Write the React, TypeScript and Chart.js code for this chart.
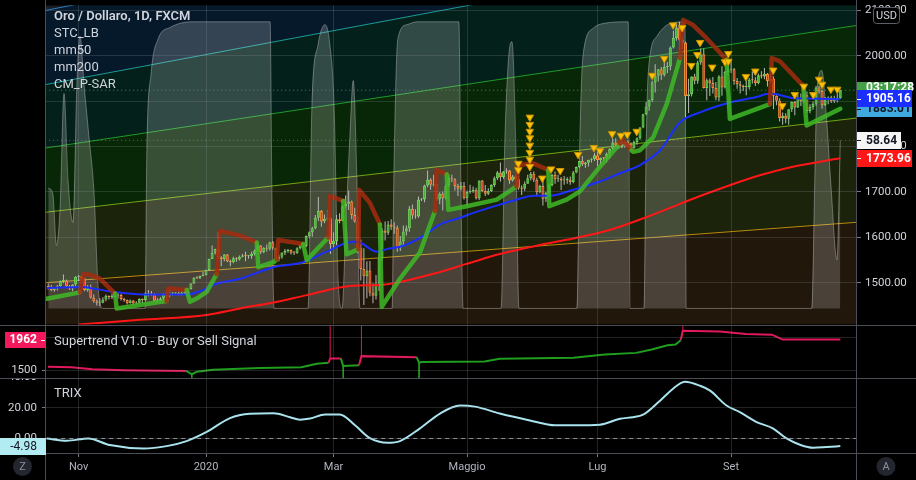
import React, { useEffect, useRef } from 'react';
import { Chart, registerables } from 'chart.js';

Chart.register(...registerables);

const FONT = "Roboto, 'Liberation Sans', Arial, sans-serif";

// ---------- DATA ----------
const firstBar = -10; // bar index of the first candle (Nov 1 2019 = 0)
// [open, high, low, close]
const candles: number[][] = [
  // Oct 2019
  [1493,1498,1485,1490],[1490,1495,1481,1484],[1484,1490,1480,1487],[1487,1495,1483,1492],[1492,1505,1489,1504],
  [1504,1518,1499,1505],[1505,1507,1488,1492],[1492,1495,1484,1487],[1487,1497,1482,1496],[1496,1514,1491,1513],
  // Nov
  [1513,1517,1504,1514],[1514,1516,1505,1509],[1509,1511,1481,1484],[1484,1495,1480,1490],[1490,1496,1465,1467],
  [1467,1474,1456,1459],[1459,1463,1450,1456],[1456,1466,1448,1456],[1456,1468,1455,1463],[1463,1474,1459,1471],
  [1471,1472,1463,1468],[1468,1476,1464,1472],[1472,1477,1467,1472],[1472,1479,1465,1473],[1473,1475,1461,1464],
  [1464,1467,1458,1462],[1462,1463,1452,1455],[1455,1463,1454,1461],[1461,1462,1451,1454],[1454,1459,1452,1456],
  [1456,1466,1454,1464],
  // Dec
  [1464,1465,1454,1462],[1462,1479,1459,1477],[1477,1484,1470,1474],[1474,1482,1471,1475],[1475,1477,1458,1460],
  [1460,1466,1458,1462],[1462,1468,1459,1465],[1465,1477,1461,1475],[1475,1480,1465,1471],[1471,1484,1468,1476],
  [1476,1479,1472,1476],[1476,1479,1473,1476],[1476,1480,1472,1475],[1475,1482,1472,1478],[1478,1481,1474,1478],
  [1478,1488,1476,1486],[1486,1499,1485,1498],[1498,1512,1497,1511],[1511,1514,1508,1510],[1510,1516,1508,1515],[1515,1524,1514,1517],
  // Jan 2020
  [1517,1529,1516,1528],[1528,1553,1526,1552],[1552,1582,1552,1566],[1566,1575,1562,1574],[1574,1611,1553,1556],
  [1556,1558,1536,1552],[1552,1563,1547,1562],[1562,1563,1545,1548],[1548,1551,1536,1545],[1545,1557,1543,1554],
  [1554,1556,1546,1551],[1551,1560,1549,1557],[1557,1563,1556,1560],[1560,1568,1547,1558],[1558,1561,1553,1558],
  [1558,1568,1553,1563],[1563,1573,1560,1571],[1571,1588,1569,1582],[1582,1583,1563,1567],[1567,1578,1565,1577],
  [1577,1584,1569,1575],[1575,1590,1571,1589],
  // Feb
  [1589,1592,1572,1577],[1577,1577,1548,1553],[1553,1562,1547,1557],[1557,1567,1553,1566],[1566,1574,1561,1570],
  [1570,1574,1566,1572],[1572,1573,1562,1566],[1566,1570,1561,1565],[1565,1578,1564,1576],[1576,1585,1573,1584],
  [1584,1586,1578,1581],[1581,1604,1578,1603],[1603,1613,1598,1611],[1611,1623,1601,1620],[1620,1649,1618,1643],
  [1643,1689,1636,1658],[1658,1660,1623,1635],[1635,1650,1631,1641],[1641,1660,1636,1642],[1642,1645,1563,1585],
  // Mar
  [1585,1611,1577,1592],[1592,1649,1583,1640],[1640,1653,1631,1636],[1636,1671,1636,1669],[1669,1692,1663,1674],
  [1674,1703,1660,1679],[1679,1681,1640,1649],[1649,1665,1632,1635],[1635,1646,1565,1576],[1576,1595,1505,1530],
  [1530,1576,1451,1514],[1514,1547,1466,1527],[1527,1548,1470,1478],[1478,1499,1455,1471],[1471,1517,1463,1498],
  [1498,1565,1482,1554],[1554,1620,1547,1615],[1615,1635,1593,1610],[1610,1636,1605,1628],[1628,1640,1616,1623],
  [1623,1633,1608,1621],[1621,1626,1568,1577],
  // Apr
  [1577,1603,1570,1591],[1591,1626,1580,1613],[1613,1626,1604,1620],[1620,1669,1612,1663],[1663,1672,1640,1648],
  [1648,1662,1641,1646],[1646,1690,1643,1683],[1683,1686,1680,1683],[1683,1716,1677,1714],[1714,1747,1710,1727],
  [1727,1730,1705,1716],[1716,1738,1712,1718],[1718,1718,1680,1683],[1683,1699,1673,1696],[1696,1701,1659,1686],
  [1686,1718,1683,1714],[1714,1739,1710,1730],[1730,1738,1721,1728],[1728,1730,1703,1713],[1713,1718,1691,1707],
  [1707,1722,1703,1713],[1713,1722,1683,1686],
  // May
  [1686,1703,1670,1700],[1700,1716,1696,1701],[1701,1712,1698,1705],[1705,1709,1683,1686],[1686,1725,1682,1725],
  [1725,1726,1699,1702],[1702,1715,1691,1696],[1696,1708,1693,1702],[1702,1717,1700,1715],[1715,1734,1711,1730],
  [1730,1746,1726,1743],[1743,1765,1723,1733],[1733,1746,1729,1745],[1745,1752,1740,1747],[1747,1748,1718,1725],
  [1725,1737,1723,1734],[1734,1736,1725,1728],[1728,1735,1705,1709],[1709,1714,1693,1707],[1707,1723,1702,1718],
  [1718,1738,1718,1730],
  // Jun
  [1730,1744,1725,1740],[1740,1745,1722,1727],[1727,1731,1692,1699],[1699,1716,1697,1713],[1713,1726,1670,1685],
  [1685,1700,1678,1698],[1698,1718,1694,1715],[1715,1740,1712,1737],[1737,1745,1718,1728],[1728,1738,1722,1729],
  [1729,1733,1704,1725],[1725,1735,1716,1726],[1726,1732,1718,1727],[1727,1734,1716,1722],[1722,1746,1719,1743],
  [1743,1756,1741,1755],[1755,1768,1752,1768],[1768,1779,1757,1761],[1761,1766,1753,1764],[1764,1771,1756,1771],
  [1771,1774,1765,1772],[1772,1786,1768,1781],
  // Jul
  [1781,1789,1757,1770],[1770,1776,1760,1775],[1775,1777,1768,1774],[1774,1787,1765,1784],[1784,1796,1773,1795],
  [1795,1818,1792,1809],[1809,1818,1797,1803],[1803,1808,1795,1798],[1798,1815,1796,1802],[1802,1811,1797,1810],
  [1810,1814,1802,1807],[1807,1809,1795,1796],[1796,1812,1795,1810],[1810,1820,1804,1818],[1818,1843,1815,1842],
  [1842,1872,1840,1871],[1871,1898,1869,1888],[1888,1903,1879,1902],[1902,1945,1898,1941],[1941,1981,1919,1956],
  [1956,1970,1943,1970],[1970,1975,1947,1958],[1958,1984,1954,1975],
  // Aug
  [1975,1986,1962,1976],[1976,2020,1968,2018],[2018,2055,2016,2039],[2039,2069,2033,2062],[2062,2075,2012,2035],
  [2035,2040,2015,2029],[2029,2031,1863,1911],[1911,1949,1874,1915],[1915,1954,1910,1954],[1954,1960,1937,1945],
  [1945,1989,1938,1985],[1985,2016,1980,2003],[2003,2016,1928,1929],[1929,1950,1902,1946],[1946,1950,1911,1940],
  [1940,1953,1917,1929],[1929,1942,1902,1908],[1908,1957,1900,1954],[1954,1977,1912,1930],[1930,1967,1928,1964],
  [1964,1977,1956,1968],
  // Sep
  [1968,1992,1962,1970],[1970,1973,1936,1944],[1944,1951,1927,1937],[1937,1944,1917,1934],[1934,1936,1922,1931],
  [1931,1944,1913,1931],[1931,1951,1926,1947],[1947,1966,1939,1946],[1946,1953,1933,1940],[1940,1961,1937,1957],
  [1957,1966,1950,1954],[1954,1973,1948,1960],[1960,1962,1932,1944],[1944,1961,1940,1950],[1950,1955,1882,1912],
  [1912,1913,1891,1901],[1901,1906,1855,1863],[1863,1875,1848,1868],[1868,1873,1851,1861],[1861,1882,1848,1882],
  [1882,1899,1876,1898],[1898,1900,1869,1886],
  // Oct
  [1886,1917,1885,1906],[1906,1917,1889,1900],[1900,1920,1895,1913],[1913,1921,1874,1878],[1878,1893,1873,1887],
  [1887,1899,1881,1894],[1894,1933,1890,1930],[1930,1933,1917,1922],[1922,1925,1883,1891],[1891,1909,1889,1902],
  [1902,1910,1893,1908],[1908,1912,1896,1900],[1900,1912,1896,1904],[1904,1916,1897,1907],[1907,1925,1905,1924],
];

const monthTicks: [number, string][] = [[0, 'Nov'], [42, '2020'], [84, 'Mar'], [128, 'Maggio'], [171, 'Lug'], [215, 'Set']];
const priceTicks = [1500, 1600, 1700, 1800, 1900, 2000, 2100];
const stTicks = [1500, 2000];
const trixTicks = [0, 20];
const trixTopTick = 40;

// mm50 / mm200 moving averages [bar, price]
const mm50Points = [
  [-10.5,1488.5],[1.55,1490.6],[3.76,1488.5],[11.4,1479.8],[21.3,1473.9],[35.6,1473.9],[40.0,1481.3],[45.5,1497.8],
  [53.2,1508.7],[64.2,1534.2],[74.0,1545.1],[81.7,1568.4],[90.5,1590.1],[92.7,1588.6],[98.2,1568.4],[101.5,1574.0],
  [107.0,1581.4],[113.6,1603.2],[119.1,1628.4],[125.7,1643.0],[130.1,1653.9],[138.8,1672.0],[144.3,1682.9],
  [149.8,1691.6],[155.3,1691.6],[163.0,1704.6],[171.8,1722.9],[178.4,1741.0],[185.0,1759.0],[191.6,1791.7],
  [198.2,1853.5],[204.8,1875.3],[214.6,1897.1],[223.4,1909.2],[227.8,1916.6],[230.0,1915.1],[235.5,1906.4],
  [239.9,1905.8],[249.8,1904.2],[251,1905.16],
];
const mm200Points = [
  [0,1408],[20.2,1418.2],[42.2,1429.0],[53.2,1443.4],[64.2,1456.5],[75.2,1472.6],[89.4,1492.8],[100.4,1495.6],
  [105.9,1501.5],[116.9,1519.6],[127.9,1541.4],[138.8,1563.1],[149.8,1579.9],[160.8,1594.5],[171.8,1610.4],
  [178.4,1623.4],[188.3,1647.4],[198.2,1673.5],[204.8,1690.9],[214.6,1714.8],[224.5,1736.6],[235.4,1755.6],[251,1773.96],
];
// CM_P-SAR [bar, price, trend(1 up / -1 down)]
const sarPoints = [
  [-10.5,1464.5,1],[0.46,1478.7,1],
  [1.55,1518.9,-1],[3.76,1517.4,-1],[7.05,1509.1,-1],[9.26,1494.3,-1],[12.0,1476.1,-1],
  [12.55,1443.4,1],[20.2,1450.8,1],[29.0,1459.5,1],
  [29.55,1487.4,-1],[35.6,1484.1,-1],
  [36.7,1458.0,1],[38.9,1465.2,1],[42.2,1479.8,1],[45.5,1518.9,1],
  [46.6,1614.1,-1],[53.2,1603.8,-1],[58.7,1588.6,-1],
  [59.2,1534.2,1],[64.2,1545.1,1],[65.3,1551.6,1],
  [65.8,1594.0,-1],[74.0,1585.3,-1],
  [75.2,1549.4,1],[78.5,1573.4,1],[82.3,1599.5,1],
  [82.8,1690.9,-1],[87.2,1680.0,-1],
  [88.3,1562.5,1],[92.2,1573.4,1],
  [92.4,1704.6,-1],[96.0,1675.7,-1],[99.3,1628.4,-1],
  [99.9,1447.1,1],[105.9,1508.7,1],[112.5,1566.8,1],[117.4,1657.6,1],
  [118.0,1748.2,-1],[121.3,1738.8,-1],
  [121.8,1660.4,1],[127.9,1668.5,1],[137.8,1682.9,1],[144.3,1712.0,1],
  [144.9,1759.0,-1],[149.8,1762.7,-1],[154.8,1748.2,-1],
  [155.1,1668.5,1],[160.8,1682.9,1],[165.2,1701.1,1],[171.8,1755.6,1],[178.4,1806.3,1],
  [178.9,1817.2,-1],[182.2,1791.7,-1],
  [182.8,1788.2,1],[185.0,1791.7,1],[189.4,1820.9,1],[193.8,1893.4,1],[198.2,1995.0,1],
  [199.2,2078.4,-1],[202.5,2067.5,-1],[206.9,2038.5,-1],[213.5,1991.3,-1],
  [214.6,1860.7,1],[227.8,1893.4,1],
  [228.4,1995.0,-1],[231.1,1987.6,-1],[238.8,1933.2,-1],
  [239.9,1846.1,1],[251,1883.01,1],
];
// yellow signal triangles [bar, price]
const signalMarks = [
  [144.9,1762.7],[144.9,1748.6],
  [148.7,1864.4],[148.7,1848.3],[148.7,1833.1],[148.7,1818.7],[148.7,1802.6],[148.7,1786.7],[148.7,1771.5],[148.7,1755.6],
  [152.8,1730.1],[155.7,1750.3],[158.7,1746.8],[164.6,1782.3],[169.8,1797.6],[171.8,1790.4],
  [175.8,1828.0],[178.7,1824.3],[180.8,1826.5],[183.9,1833.1],
  [189.0,1956.5],[193.0,1993.5],[195.9,2067.5],[198.9,2061.6],
  [201.9,1978.2],[203.9,2002.2],[204.8,2028.9],[208.8,1974.5],[213.0,1986.3],[214.1,2004.4],[214.1,1987.6],
  [219.9,1953.6],[223.0,1965.8],[228.9,1968.0],
  [231.9,1889.6],[236.0,1914.0],[239.0,1932.5],[242.1,1914.0],[244.0,1947.8],[245.0,1936.9],[247.9,1926.0],[250.0,1926.0],
];
// STC_LB oscillator (0..100) [bar, value]
const stcPoints = [
  [-10,42],[-8.5,40],[-7.3,22],[-6.1,35],[-4.8,75],[-3.5,45],[-1.85,30],[-0.5,80],[0.46,95],[1.8,78],[3.4,60],[5.1,40],[6.4,8],[8.0,0],
  [21.9,0],[22.5,55],[23.9,82],[26.2,94],[30.1,98],[37.7,100],[63.1,100],[63.7,40],[64.4,0],
  [75.6,0],[76.9,71],[78.9,92],[81.2,99],[82.8,92],[84.2,70],[85.5,10],[86.8,0],
  [88.1,30],[89.4,60],[90.5,79.5],[91.7,45],[92.7,0],
  [103.3,0],[103.9,47],[105.2,94],[108.2,99],[111.5,100],[125.3,100],[126,40],[126.7,0],
  [139.2,0],[140.5,60],[142.2,92],[142.8,93],[144.1,55],[145.1,0],
  [164.2,0],[165.2,60],[166.2,88],[169.5,97.7],[172.8,99.4],[181.1,100],[181.7,0],
  [186.3,0],[187,55],[187.7,82],[190.6,95],[194.9,99.4],[199.8,100],[200.2,0],
  [241.6,0],[242.6,45],[243.3,76],[244.9,83],[246.2,70],[247.9,43],[249.9,17],[251,58.64],
];
// Fan / channel drawing lines [bar, price]
const fanBlue = [[-11, 2099.5], [257, 2453.7]];
const fanTeal = [[-11, 1936.2], [257, 2271.7]];
const fanGreen = [[-11, 1796.5], [257, 2067.3]];
const fanLime = [[-11, 1655.0], [257, 1863.1]];
const fanOrange = [[-11, 1499.8], [257, 1633.4]];
// Supertrend [bar, value, trend]
const stPoints = [
  [-10.1,1554,-1],[-2.4,1545,-1],[4.5,1515,-1],[14.9,1500,-1],[35.5,1490,-1],
  [37.3,1440,1],[39.0,1479,1],[44.2,1509,1],[59.7,1534,1],[73.4,1545,1],[78.5,1598,1],[82.4,1613,1],
  [82.9,1679,-1],[86.4,1679,-1],
  [87.2,1564,1],[92.4,1574,1],
  [93.2,1713,-1],[111.4,1698,-1],
  [112.2,1613,1],[113.1,1624,1],[133.8,1634,1],[138.8,1673,1],[163.1,1688,1],[173.4,1738,1],[183.7,1762,1],
  [188.9,1812,1],[194.1,1876,1],[196.7,1887,1],[198.4,1951,1],
  [199.1,2095,-1],[211.3,2085,-1],[219.9,2045,-1],[228.5,2036,-1],[232.0,1962,-1],[251,1962,-1],
];
const stSpikesUp = [[82.9,1679,2189],[93.2,1713,2189],[199.1,2095,2180]];
const stSpikesDown = [[37.3,1440,1386],[87.2,1564,1386],[112.2,1613,1386]];
// TRIX [bar, value]
const trixPoints = [
  [-10.5,0],[-3.9,-1.5],[3.2,0],[10.3,-4.3],[21.3,-6.5],[29.0,-5.0],[35.6,-1.7],[42.2,4.3],[49.9,13.3],[56.5,16.1],
  [64.2,16.5],[69.7,13.9],[72.9,12.3],[76.3,13],[81.2,15.7],[86.1,15.7],[91.1,8.6],[96.0,0.2],[101.9,-2.8],[105.9,-1.7],
  [112.5,6.6],[119.1,16.3],[125.7,21.5],[130.6,20.8],[138.8,16.3],[148.7,11.8],[157.0,8.6],[163.6,8.6],[171.8,9.0],
  [178.4,12.9],[182.7,13.9],[186.0,15.5],[191.6,24.7],[197.1,34.4],[199.8,37],[204.8,34.4],[208.1,31.2],[213.5,21.5],
  [217.9,17.2],[223.4,10.7],[228.9,6.5],[233.3,0],[237.9,-4.3],[242.1,-6.1],[246.5,-5.6],[251,-4.98],
];
const legendNames = ['STC_LB', 'mm50', 'mm200', 'CM_P-SAR'];
const countdown = '03:17:28';

// ---------- CHART ----------
const xy = (rows: number[][]) => rows.map((r) => ({ x: r[0], y: r[1] }));
const last = (rows: number[][]) => rows[rows.length - 1];

const SAR_UP = 'rgba(62,185,38,0.85)';
const SAR_DN = 'rgba(165,42,14,0.85)';
const ST_UP = '#1f9e1f';
const ST_DN = '#e0195a';

function buildConfig() {
  const lastClose = candles[candles.length - 1][3];
  const xMin = -11, xMax = 257;
  const fan = (pts: number[][], color: string, fill: any, bg: string) => ({
    type: 'line', data: xy(pts), yAxisID: 'yMain', borderColor: color, borderWidth: 1,
    pointRadius: 0, fill, backgroundColor: bg, order: 100, tension: 0,
  });
  const spikes = (rows: number[][]) => {
    const out: any[] = [];
    rows.forEach((r) => { out.push({ x: r[0], y: r[1] }, { x: r[0], y: r[2] }, { x: r[0], y: null }); });
    return out;
  };

  const datasets: any[] = [
    fan(fanBlue, '#2f7fc1', 'end', '#1b1e24'),
    fan(fanTeal, '#1a9c98', '-1', '#05192a'),
    fan(fanGreen, '#1e9c28', '-1', '#03211a'),
    fan(fanLime, '#74a60f', '-1', '#082707'),
    fan(fanOrange, '#b98a0c', '-1', '#1b230b'),
    { ...fan(fanOrange, 'rgba(0,0,0,0)', 'start', '#21170a'), borderWidth: 0 },
    {
      type: 'line', data: xy(stcPoints), yAxisID: 'yStc', borderColor: 'rgba(190,190,190,0.45)', borderWidth: 1,
      backgroundColor: 'rgba(255,255,255,0.19)', fill: { value: 0 }, pointRadius: 0, cubicInterpolationMode: 'monotone', order: 90,
    },
    {
      type: 'line', data: [{ x: xMin, y: last(stcPoints)[1] }, { x: xMax, y: last(stcPoints)[1] }], yAxisID: 'yStc',
      borderColor: 'rgba(170,170,170,0.55)', borderWidth: 1, borderDash: [1, 3], pointRadius: 0, order: 85,
    },
    {
      type: 'line', data: [{ x: xMin, y: lastClose }, { x: xMax, y: lastClose }], yAxisID: 'yMain',
      borderColor: 'rgba(76,175,80,0.8)', borderWidth: 1, borderDash: [1, 3], pointRadius: 0, order: 85,
    },
    {
      type: 'bar', yAxisID: 'yMain', grouped: false, barThickness: 1, inflateAmount: 0, order: 60,
      data: candles.map((c, k) => ({ x: firstBar + k, y: [c[2], c[1]] })),
      backgroundColor: '#b9b9b9',
    },
    {
      type: 'bar', yAxisID: 'yMain', grouped: false, barThickness: 3, inflateAmount: 0, minBarLength: 1, order: 59,
      borderSkipped: false, borderWidth: 1,
      data: candles.map((c, k) => ({ x: firstBar + k, y: [c[0], c[3]] })),
      backgroundColor: (ctx: any) => { const r = ctx.raw; return r && r.y[1] < r.y[0] ? '#e2321c' : '#3fb32a'; },
      borderColor: (ctx: any) => { const r = ctx.raw; return r && r.y[1] < r.y[0] ? '#f7903e' : '#6fd45a'; },
    },
    {
      type: 'line', data: xy(mm200Points), yAxisID: 'yMain', borderColor: '#ff1616', borderWidth: 2,
      pointRadius: 0, cubicInterpolationMode: 'monotone', order: 50,
    },
    {
      type: 'line', data: xy(mm50Points), yAxisID: 'yMain', borderColor: '#1a2eff', borderWidth: 2,
      pointRadius: 0, cubicInterpolationMode: 'monotone', order: 49,
    },
    {
      type: 'line', data: xy(sarPoints), yAxisID: 'yMain', borderWidth: 4.5, pointRadius: 0, tension: 0,
      borderColor: SAR_UP, borderJoinStyle: 'round', borderCapStyle: 'round', order: 45,
      segment: { borderColor: (c: any) => (sarPoints[c.p1DataIndex][2] > 0 ? SAR_UP : SAR_DN) },
    },
    {
      type: 'line', data: xy(signalMarks), yAxisID: 'yMain', showLine: false, pointStyle: 'triangle', rotation: 180,
      pointRadius: 4.3, backgroundColor: '#ffc107', borderColor: '#c99400', borderWidth: 1, order: 40,
    },
    // Supertrend pane
    {
      type: 'line', data: xy(stPoints), yAxisID: 'ySt', borderWidth: 2, pointRadius: 0, tension: 0, order: 30,
      borderColor: ST_DN, segment: { borderColor: (c: any) => (stPoints[c.p1DataIndex][2] > 0 ? ST_UP : ST_DN) },
    },
    { type: 'line', data: spikes(stSpikesUp), yAxisID: 'ySt', borderColor: ST_DN, borderWidth: 1, pointRadius: 0, spanGaps: false, order: 31 },
    { type: 'line', data: spikes(stSpikesDown), yAxisID: 'ySt', borderColor: ST_UP, borderWidth: 1, pointRadius: 0, spanGaps: false, order: 31 },
    // TRIX pane
    {
      type: 'line', data: [{ x: xMin, y: 0 }, { x: xMax, y: 0 }], yAxisID: 'yTrix', borderColor: '#8d9099',
      borderWidth: 1, borderDash: [4, 4], pointRadius: 0, order: 21,
    },
    {
      type: 'line', data: xy(trixPoints), yAxisID: 'yTrix', borderColor: '#a9e3ee', borderWidth: 2,
      pointRadius: 0, cubicInterpolationMode: 'monotone', order: 20,
    },
  ];
  datasets.forEach((d) => { d.xAxisID = 'x'; });

  const gridColor = 'rgba(150,155,165,0.22)';
  const tickFont = { family: FONT, size: 11.5 };
  const yFit = (w: number) => (s: any) => { s.width = w; s.paddingTop = 0; s.paddingBottom = 0; };
  const blankAxis = (position: string, weight: number, stackWeight: number, w: number, min: number, max: number) => ({
    type: 'linear', position, stack: position, stackWeight, weight, min, max, offset: false,
    ticks: { display: false }, grid: { display: false, drawTicks: false }, border: { display: false },
    afterFit: yFit(w),
  });

  const labelsPlugin = {
    id: 'tvOverlay',
    beforeDraw(chart: any) {
      const { ctx } = chart;
      ctx.save(); ctx.fillStyle = '#000'; ctx.fillRect(0, 0, chart.width, chart.height); ctx.restore();
    },
    afterDraw(chart: any) {
      const { ctx, chartArea: ca, scales } = chart;
      const yM = scales.yMain, yS = scales.ySt, yT = scales.yTrix, yC = scales.yStc;
      ctx.save();
      // partially hidden top label of the TRIX axis
      ctx.save();
      ctx.beginPath(); ctx.rect(0, yT.top, ca.left, 12); ctx.clip();
      ctx.fillStyle = '#d1d4dc'; ctx.font = `11.5px ${FONT}`; ctx.textAlign = 'right'; ctx.textBaseline = 'middle';
      ctx.fillText(trixTopTick.toFixed(2), 37, yT.getPixelForValue(trixTopTick));
      ctx.restore();

      ctx.strokeStyle = '#4b4e56';
      ctx.lineWidth = 1;
      [yM.bottom, yS.bottom, ca.bottom].forEach((y: number) => {
        ctx.beginPath(); ctx.moveTo(0, Math.round(y) + 0.5); ctx.lineTo(chart.width, Math.round(y) + 0.5); ctx.stroke();
      });
      [ca.left, ca.right].forEach((x: number) => {
        ctx.beginPath(); ctx.moveTo(Math.round(x) - 0.5, 0); ctx.lineTo(Math.round(x) - 0.5, chart.height); ctx.stroke();
      });
      // legends
      ctx.textBaseline = 'middle'; ctx.textAlign = 'left'; ctx.fillStyle = '#d1d4dc';
      ctx.font = `600 13px ${FONT}`;
      ctx.fillText('Oro / Dollaro, 1D, FXCM', 54, 16.5);
      ctx.font = `13px ${FONT}`;
      legendNames.forEach((n, k) => ctx.fillText(n, 54, 33.7 + 17 * k));
      ctx.fillText('Supertrend V1.0 - Buy or Sell Signal', 54, yS.top + 17.5);
      ctx.fillText('TRIX', 54, yT.top + 16);

      // right value labels
      const box = (y: number, bg: string, fg: string, text: string, w: number, dy = 0) => {
        const x0 = ca.right;
        ctx.fillStyle = bg; ctx.fillRect(x0, Math.round(y - 8.5), w, 17);
        ctx.fillStyle = fg; ctx.fillRect(x0, Math.round(y), 4, 1);
        ctx.font = `bold 12px ${FONT}`; ctx.textAlign = 'left';
        ctx.fillText(text, x0 + 9, y + 0.5 + dy);
      };
      box(yM.getPixelForValue(lastClose), '#43a047', '#ffffff', countdown, 55, -3);
      box(yC.getPixelForValue(last(stcPoints)[1]), '#f5f5f5', '#131722', last(stcPoints)[1].toFixed(2), 44);
      box(yM.getPixelForValue(last(mm200Points)[1]), '#ff1616', '#ffffff', last(mm200Points)[1].toFixed(2), 55);
      box(yM.getPixelForValue(last(sarPoints)[1]), '#3fa9e0', '#131722', last(sarPoints)[1].toFixed(2), 55);
      box(yM.getPixelForValue(last(mm50Points)[1]), '#1a2eff', '#ffffff', last(mm50Points)[1].toFixed(2), 55);

      // left value labels
      ctx.textAlign = 'right'; ctx.font = `bold 12px ${FONT}`;
      const ys = yS.getPixelForValue(last(stPoints)[1]);
      ctx.fillStyle = '#f2185c'; ctx.fillRect(5, Math.round(ys - 8), ca.left - 5, 16);
      ctx.fillStyle = '#ffffff'; ctx.fillText(String(last(stPoints)[1]), 37, ys + 0.5);
      ctx.fillRect(ca.left - 5, Math.round(ys), 4, 1);
      const yt = yT.getPixelForValue(last(trixPoints)[1]);
      ctx.fillStyle = '#b2ebf2'; ctx.fillRect(0, Math.round(yt - 8.5), ca.left, 17);
      ctx.fillStyle = '#131722'; ctx.font = `12px ${FONT}`; ctx.fillText(last(trixPoints)[1].toFixed(2), 37, yt + 0.5);

      // USD box
      ctx.fillStyle = '#000'; ctx.strokeStyle = '#5d606b';
      ctx.beginPath(); (ctx as any).roundRect(873.5, 7.5, 26, 16, 3); ctx.fill(); ctx.stroke();
      ctx.fillStyle = '#d1d4dc'; ctx.font = `11px ${FONT}`; ctx.textAlign = 'center';
      ctx.fillText('USD', 886.5, 16);

      // corner buttons
      const circ = (cx: number, cy: number, t: string) => {
        ctx.fillStyle = '#23262e'; ctx.beginPath(); ctx.arc(cx, cy, 9.5, 0, Math.PI * 2); ctx.fill();
        ctx.fillStyle = '#8d9099'; ctx.font = `11px ${FONT}`; ctx.textAlign = 'center'; ctx.fillText(t, cx, cy + 0.5);
      };
      circ(22.5, 466.5, 'Z');
      circ(886, 466.5, 'A');
      ctx.restore();
    },
  };

  return {
    type: 'line',
    data: { datasets },
    plugins: [labelsPlugin],
    options: {
      responsive: false, animation: false, devicePixelRatio: 1, events: [],
      layout: { padding: 0 },
      plugins: { legend: { display: false }, tooltip: { enabled: false } },
      scales: {
        x: {
          type: 'linear', min: -10.74, max: 256.5, offset: false,
          grid: { color: gridColor, z: 1, offset: false, drawTicks: true, tickLength: 4, tickColor: '#787b86' },
          border: { display: false },
          afterBuildTicks: (s: any) => { s.ticks = monthTicks.map((m) => ({ value: m[0] })); },
          afterFit: (s: any) => { s.height = 27; s.paddingLeft = 0; s.paddingRight = 0; },
          ticks: {
            autoSkip: false, maxRotation: 0, padding: 4, color: '#b2b5be', font: { family: FONT, size: 11 },
            callback: (v: number) => { const m = monthTicks.find((t) => t[0] === v); return m ? m[1] : ''; },
          },
        },
        yMain: {
          type: 'linear', position: 'right', stack: 'right', stackWeight: 323, weight: 1, min: 1407.9, max: 2111.0, offset: false,
          grid: { color: gridColor, z: 1, drawTicks: true, tickLength: 4, tickColor: '#787b86' },
          border: { display: false },
          afterBuildTicks: (s: any) => { s.ticks = priceTicks.map((v) => ({ value: v })); },
          afterFit: yFit(59),
          ticks: { padding: 4, color: '#d1d4dc', font: tickFont, callback: (v: number) => Number(v).toFixed(2) },
        },
        yStR: blankAxis('right', 2, 54, 59, 1385.4, 2189),
        yTrixR: blankAxis('right', 3, 76, 59, -9.48, 39.55),
        yStc: blankAxis('left', 3, 323, 46, -5.62, 105.76),
        ySt: {
          type: 'linear', position: 'left', stack: 'left', stackWeight: 54, weight: 2, min: 1385.4, max: 2189, offset: false,
          grid: { color: gridColor, z: 1, drawTicks: true, tickLength: 4, tickColor: '#787b86' },
          border: { display: false },
          afterBuildTicks: (s: any) => { s.ticks = stTicks.map((v) => ({ value: v })); },
          afterFit: yFit(46),
          ticks: { padding: 5, color: '#d1d4dc', font: tickFont, callback: (v: number) => String(v) },
        },
        yTrix: {
          type: 'linear', position: 'left', stack: 'left', stackWeight: 76, weight: 1, min: -9.48, max: 39.55, offset: false,
          grid: { color: gridColor, z: 1, drawTicks: true, tickLength: 4, tickColor: '#787b86' },
          border: { display: false },
          afterBuildTicks: (s: any) => { s.ticks = trixTicks.map((v) => ({ value: v })); },
          afterFit: yFit(46),
          ticks: { padding: 5, color: '#d1d4dc', font: tickFont, callback: (v: number) => Number(v).toFixed(2) },
        },
      },
    },
  };
}

export default function App() {
  const ref = useRef<HTMLCanvasElement>(null);
  useEffect(() => {
    document.body.style.margin = '0';
    document.body.style.background = '#000';
    Chart.defaults.font.family = FONT;
    const chart = new Chart(ref.current as HTMLCanvasElement, buildConfig() as any);
    return () => chart.destroy();
  }, []);
  return (
    <div style={{ width: 916, height: 480, position: 'relative', background: '#000', overflow: 'hidden' }}>
      <canvas ref={ref} width={916} height={480} style={{ display: 'block', width: 916, height: 480 }} />
    </div>
  );
}
